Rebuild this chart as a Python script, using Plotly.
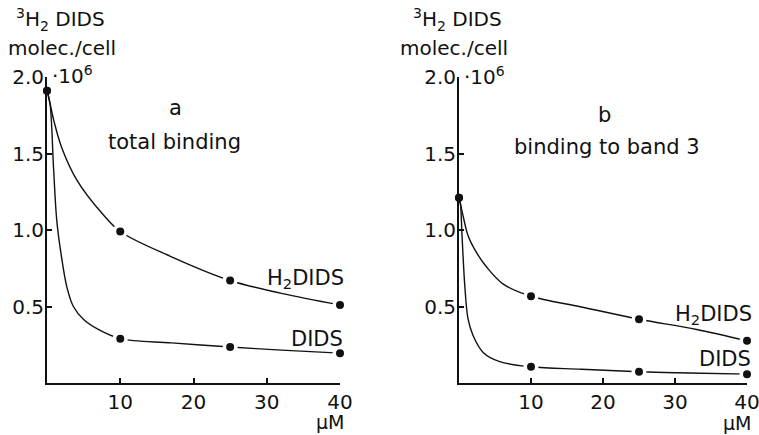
import plotly.graph_objects as go

W, H = 759, 435

# measured points (dots)
conc = [0, 10, 25, 40]
a_h2dids = [1.91, 0.99, 0.67, 0.51]
a_dids = [1.91, 0.29, 0.235, 0.195]
b_h2dids = [1.21, 0.567, 0.417, 0.276]
b_dids = [1.21, 0.106, 0.074, 0.058]

# drawn curves
a_h2_cx = [0, 0.4, 0.96, 2.0, 4.1, 7.5, 10, 17, 25, 32, 40]
a_h2_cy = [1.91, 1.83, 1.71, 1.54, 1.325, 1.11, 0.99, 0.825, 0.67, 0.586, 0.51]
a_di_cx = [0, 0.4, 0.9, 1.33, 1.9, 2.7, 3.6, 5.0, 7.0, 10, 17, 25, 32, 40]
a_di_cy = [1.91, 1.83, 1.4, 1.065, 0.85, 0.63, 0.50, 0.415, 0.35, 0.29, 0.262, 0.235, 0.215, 0.195]
b_h2_cx = [0, 0.2, 0.65, 1.25, 2.4, 3.8, 6.1, 10, 17, 25, 33, 40]
b_h2_cy = [1.21, 1.17, 1.075, 0.964, 0.855, 0.76, 0.648, 0.567, 0.497, 0.417, 0.35, 0.276]
b_di_cx = [0, 0.2, 0.42, 0.8, 1.25, 1.95, 3.35, 5.65, 10, 17, 25, 32, 40]
b_di_cy = [1.21, 1.17, 0.964, 0.64, 0.42, 0.31, 0.20, 0.14, 0.106, 0.09, 0.074, 0.065, 0.058]

x_ticks = [10, 20, 30, 40]
x_tick_text = ["10", "20", "30", "40"]
y_ticks = [0.5, 1.0, 1.5, 2.0]
y_tick_text = ["0.5", "1.0", "1.5", "2.0"]

FONT = "DejaVu Sans"
FS = 21
INK = "#111111"

fig = go.Figure()

def curve(x, y, xa, ya):
    fig.add_trace(go.Scatter(x=x, y=y, mode="lines", xaxis=xa, yaxis=ya,
                             line=dict(color=INK, width=1.4, shape="spline", smoothing=1.0),
                             cliponaxis=False, showlegend=False, hoverinfo="skip"))

def dots(x, y, xa, ya):
    # white halo leaves a small gap in the line around each dot (not at x=0)
    fig.add_trace(go.Scatter(x=x[1:], y=y[1:], mode="markers", xaxis=xa, yaxis=ya,
                             marker=dict(color="white", size=15, line=dict(width=0)),
                             cliponaxis=False, showlegend=False, hoverinfo="skip"))
    fig.add_trace(go.Scatter(x=x, y=y, mode="markers", xaxis=xa, yaxis=ya,
                             marker=dict(color=INK, size=8, line=dict(width=0)),
                             cliponaxis=False, showlegend=False, hoverinfo="skip"))

curve(a_h2_cx, a_h2_cy, "x", "y")
curve(a_di_cx, a_di_cy, "x", "y")
curve(b_h2_cx, b_h2_cy, "x2", "y2")
curve(b_di_cx, b_di_cy, "x2", "y2")
dots(conc, a_h2dids, "x", "y")
dots(conc, a_dids, "x", "y")
dots(conc, b_h2dids, "x2", "y2")
dots(conc, b_dids, "x2", "y2")

def px(x):
    return x / W

def py(y):
    return 1 - y / H

ydom = [py(383), py(77)]
ax_common = dict(showgrid=False, zeroline=False, showline=True, linecolor=INK, linewidth=2,
                 ticks="inside", ticklen=5, tickwidth=1.5, tickcolor=INK, automargin=False,
                 ticklabeloverflow="allow",
                 tickfont=dict(family=FONT, size=20, color=INK))

fig.update_layout(
    width=W, height=H, margin=dict(l=0, r=0, t=0, b=0, autoexpand=False),
    paper_bgcolor="white", plot_bgcolor="white",
    xaxis=dict(domain=[px(47), px(340)], range=[0, 40], anchor="y",
               tickvals=x_ticks, ticktext=x_tick_text, **ax_common),
    yaxis=dict(domain=ydom, range=[0, 2.0], anchor="x", ticklabelstandoff=-3,
               tickvals=y_ticks, ticktext=y_tick_text, **ax_common),
    xaxis2=dict(domain=[px(459), px(747)], range=[0, 40], anchor="y2",
                tickvals=x_ticks, ticktext=x_tick_text, **ax_common),
    yaxis2=dict(domain=ydom, range=[0, 2.0], anchor="x2", ticklabelstandoff=-3,
                tickvals=y_ticks, ticktext=y_tick_text, **ax_common),
)

def txt(text, x, y, xanchor="center", yanchor="middle", size=FS):
    fig.add_annotation(text=text, x=px(x), y=py(y), xref="paper", yref="paper",
                       xanchor=xanchor, yanchor=yanchor, showarrow=False,
                       font=dict(family=FONT, size=size, color=INK))

# y titles
txt("<sup>3</sup>H<sub>2</sub> DIDS", 60, 19, size=20)
txt("molec./cell", 62, 48, size=20)
txt("<sup>3</sup>H<sub>2</sub> DIDS", 457, 19, size=20)
txt("molec./cell", 454, 48, size=20)
txt("·10<sup>6</sup>", 50, 75, xanchor="left", size=20)
txt("·10<sup>6</sup>", 462, 76, xanchor="left", size=20)

# panel titles
txt("a", 175, 108)
txt("total binding", 174, 142)
txt("b", 604, 115)
txt("binding to band 3", 607, 147)

# series labels
txt("H<sub>2</sub>DIDS", 346, 279, xanchor="right")
txt("DIDS", 345, 339, xanchor="right")
txt("H<sub>2</sub>DIDS", 754, 315, xanchor="right")
txt("DIDS", 753, 359, xanchor="right")

# unit
txt("μM", 346, 422, xanchor="right", size=19)
txt("μM", 753, 423, xanchor="right", size=19)

fig.write_html("out.html")
